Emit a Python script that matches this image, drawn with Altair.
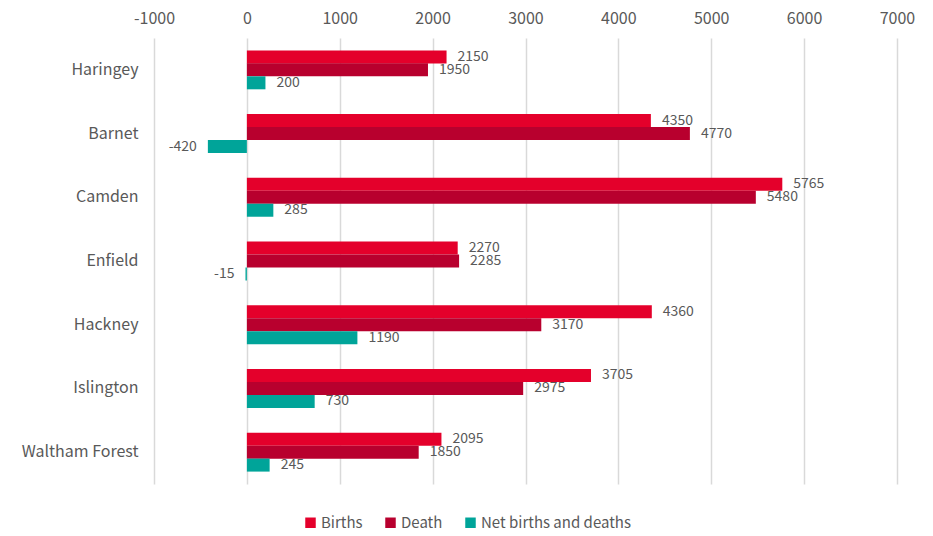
import altair as alt
import pandas as pd

categories = ["Haringey", "Barnet", "Camden", "Enfield", "Hackney", "Islington", "Waltham Forest"]
births = [2150, 4350, 5765, 2270, 4360, 3705, 2095]
deaths = [1950, 4770, 5480, 2285, 3170, 2975, 1850]
net = [200, -420, 285, -15, 1190, 730, 245]
series = ["Births", "Death", "Net births and deaths"]
colors = ["#E4002B", "#B8002E", "#00A499"]
x_ticks = [-1000, 0, 1000, 2000, 3000, 4000, 5000, 6000, 7000]

rows = []
for i, c in enumerate(categories):
    for s, vals in zip(series, [births, deaths, net]):
        rows.append({"borough": c, "series": s, "value": vals[i]})
df = pd.DataFrame(rows)

FONT = "Noto Sans CJK JP"
TXT = "#595959"

y_enc = alt.Y("borough:N", sort=categories, title=None,
              scale=alt.Scale(paddingInner=0.39, paddingOuter=0.195),
              axis=alt.Axis(domain=False, ticks=False, labelPadding=16,
                            labelFontSize=16, labelColor=TXT, labelFont=FONT))
yoff = alt.YOffset("series:N", sort=series, scale=alt.Scale(domain=series, paddingInner=0, paddingOuter=0))
x_scale = alt.Scale(domain=[-1000, 7000], nice=False, zero=False)

bars = alt.Chart(df).mark_bar(size=13).encode(
    x=alt.X("value:Q", scale=x_scale, title=None,
            axis=alt.Axis(orient="top", values=x_ticks, domain=False, ticks=False,
                          labelPadding=12, labelFontSize=16, labelColor=TXT, labelFont=FONT,
                          labelFlush=False, labelOverlap=False,
                          labelExpr="'' + datum.value",
                          gridColor="#D9D9D9", gridWidth=1.5)),
    y=y_enc,
    yOffset=yoff,
    color=alt.Color("series:N", sort=series,
                    scale=alt.Scale(domain=series, range=colors),
                    legend=alt.Legend(title=None, orient="none", direction="horizontal",
                                      legendX=149, legendY=477, symbolType="square",
                                      symbolSize=110, symbolStrokeWidth=0,
                                      labelFontSize=15, labelColor=TXT, labelFont=FONT,
                                      columnPadding=20, labelOffset=3)),
)

text_base = alt.Chart(df).transform_calculate(label="'' + datum.value")

pos = text_base.transform_filter("datum.value >= 0").mark_text(
    align="left", baseline="middle", dx=11, fontSize=14, color=TXT, font=FONT
).encode(x=alt.X("value:Q", scale=x_scale), y=alt.Y("borough:N", sort=categories), yOffset=yoff,
         text="label:N")

neg = text_base.transform_filter("datum.value < 0").mark_text(
    align="right", baseline="middle", dx=-11, fontSize=14, color=TXT, font=FONT
).encode(x=alt.X("value:Q", scale=x_scale), y=alt.Y("borough:N", sort=categories), yOffset=yoff,
         text="label:N")

chart = alt.layer(bars, pos, neg).properties(
    width=743, height=446,
    autosize=alt.AutoSizeParams(type="none"),
    padding={"left": 146, "top": 30, "right": 28, "bottom": 48},
).configure_view(stroke=None)

chart.save("out.html", embed_options={"renderer": "svg", "actions": False})
